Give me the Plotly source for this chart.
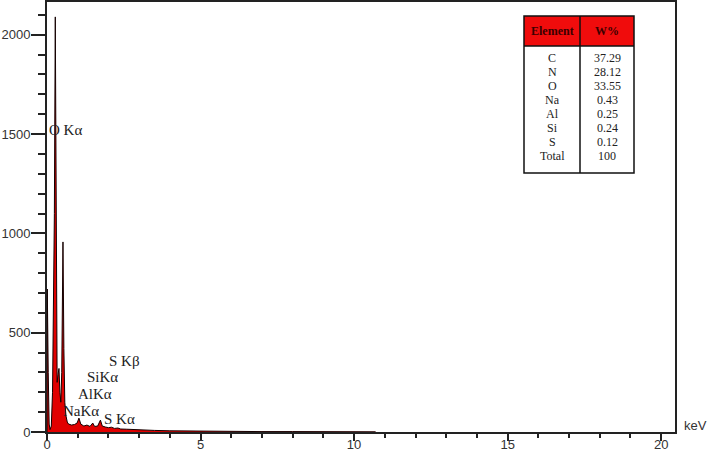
import plotly.graph_objects as go

# ---- data ----
energy_kev = [0.00, 0.01, 0.04, 0.07, 0.10, 0.14, 0.18, 0.21, 0.24, 0.27, 0.30, 0.33,
              0.36, 0.39, 0.42, 0.45, 0.48, 0.52, 0.55, 0.58, 0.62, 0.66, 0.70, 0.80,
              0.90, 0.98, 1.04, 1.10, 1.20, 1.30, 1.40, 1.49, 1.55, 1.65, 1.74, 1.80,
              1.90, 2.00, 2.10, 2.20, 2.31, 2.40, 2.60, 2.80, 3.00, 3.50, 4.00, 4.50,
              5.00, 6.00, 7.00, 8.00, 9.00, 10.00, 10.70]
counts = [0, 720, 300, 40, 12, 30, 200, 700, 1100, 2090, 650, 250,
          290, 320, 200, 150, 300, 957, 420, 150, 80, 50, 40, 35,
          38, 45, 70, 40, 30, 35, 28, 45, 28, 30, 60, 30,
          25, 22, 24, 18, 20, 15, 14, 12, 10, 8, 6, 5,
          4, 3, 2, 2, 1, 1, 1]

peak_labels = ["O Kα", "S Kβ", "SiKα", "AlKα", "NaKα", "S Kα"]
peak_label_x = [0.0, 1.96, 1.24, 0.93, 0.46, 1.80]
peak_label_y = [1520, 360, 275, 190, 105, 65]

table_elements = ["C", "N", "O", "Na", "Al", "Si", "S", "Total"]
table_wpct = ["37.29", "28.12", "33.55", "0.43", "0.25", "0.24", "0.12", "100"]

x_tickvals = [0, 5, 10, 15, 20]
y_tickvals = [0, 500, 1000, 1500, 2000]

fig = go.Figure()
fig.add_trace(go.Scatter(
    x=energy_kev, y=counts, mode="lines", fill="tozeroy",
    fillcolor="rgb(225,0,0)", line=dict(color="rgb(20,0,0)", width=1),
    showlegend=False, hoverinfo="skip"))

serif = "Liberation Serif, Times New Roman, serif"
sans = "Liberation Sans, Arial, sans-serif"

anns = []
for t, x, y in zip(peak_labels, peak_label_x, peak_label_y):
    anns.append(dict(x=x, y=y, xref="x", yref="y", text=t, showarrow=False,
                     xanchor="left", yanchor="middle",
                     font=dict(family=serif, size=15, color="#222")))

# table geometry in pixel-space converted to paper coordinates
L, R, T, B = 47, 675, 2, 432
def px(xp):
    return (xp - L) / (R - L)
def py(yp):
    return (B - yp) / (B - T)

tl, tr, tdiv = 524, 634, 580
ttop, thead, tbot = 16, 46, 173
shapes = [
    dict(type="rect", xref="paper", yref="paper", x0=px(tl), x1=px(tr), y0=py(thead), y1=py(ttop),
         fillcolor="rgb(240,12,12)", line=dict(width=0), layer="above"),
    dict(type="rect", xref="paper", yref="paper", x0=px(tl), x1=px(tr), y0=py(tbot), y1=py(ttop),
         fillcolor="rgba(0,0,0,0)", line=dict(color="#111", width=1.5), layer="above"),
    dict(type="line", xref="paper", yref="paper", x0=px(tl), x1=px(tr), y0=py(thead), y1=py(thead),
         line=dict(color="#111", width=1.5), layer="above"),
    dict(type="line", xref="paper", yref="paper", x0=px(tdiv), x1=px(tdiv), y0=py(tbot), y1=py(ttop),
         line=dict(color="#111", width=1.5), layer="above"),
]
cell = dict(xref="paper", yref="paper", showarrow=False, xanchor="center", yanchor="middle")
anns.append(dict(cell, x=px((tl + tdiv) / 2), y=py(31), text="<b>Element</b>",
                 font=dict(family=serif, size=12, color="#3a0000")))
anns.append(dict(cell, x=px((tdiv + tr) / 2), y=py(31), text="<b>W%</b>",
                 font=dict(family=serif, size=12, color="#3a0000")))
for i, (el, w) in enumerate(zip(table_elements, table_wpct)):
    yrow = 58 + i * 14.0
    anns.append(dict(cell, x=px((tl + tdiv) / 2), y=py(yrow), text=el,
                     font=dict(family=serif, size=12, color="#222")))
    anns.append(dict(cell, x=px((tdiv + tr) / 2), y=py(yrow), text=w,
                     font=dict(family=serif, size=12, color="#222")))

anns.append(dict(x=1.0, y=py(425), xref="paper", yref="paper", text="keV", showarrow=False,
                 xanchor="left", yanchor="middle", xshift=7,
                 font=dict(family=sans, size=13, color="#333")))

fig.update_layout(
    width=707, height=453,
    margin=dict(l=L, r=707 - R, t=T, b=453 - B, autoexpand=False),
    paper_bgcolor="white", plot_bgcolor="white",
    annotations=anns, shapes=shapes,
    xaxis=dict(range=[0, 20.45], tickvals=x_tickvals, ticks="outside", ticklen=7, tickwidth=1.5,
               tickcolor="#222", showline=True, linecolor="#222", linewidth=2, mirror=True,
               showgrid=False, zeroline=False, automargin=False, ticklabelstandoff=-8,
               minor=dict(dtick=1, ticks="outside", ticklen=4, tickwidth=1.5, tickcolor="#222", showgrid=False),
               tickfont=dict(family=sans, size=13, color="#333")),
    yaxis=dict(range=[0, 2165], tickvals=y_tickvals, ticks="outside", ticklen=14, tickwidth=1.5,
               tickcolor="#222", showline=True, linecolor="#222", linewidth=2, mirror=True,
               showgrid=False, zeroline=False, automargin=False, ticklabelstandoff=-2,
               minor=dict(dtick=100, ticks="outside", ticklen=7, tickwidth=1.5, tickcolor="#222", showgrid=False),
               tickfont=dict(family=sans, size=13, color="#333")),
)

fig.write_html("out.html", config={"displayModeBar": False},
               post_script="document.body.style.margin='0';document.body.style.overflow='hidden';")
